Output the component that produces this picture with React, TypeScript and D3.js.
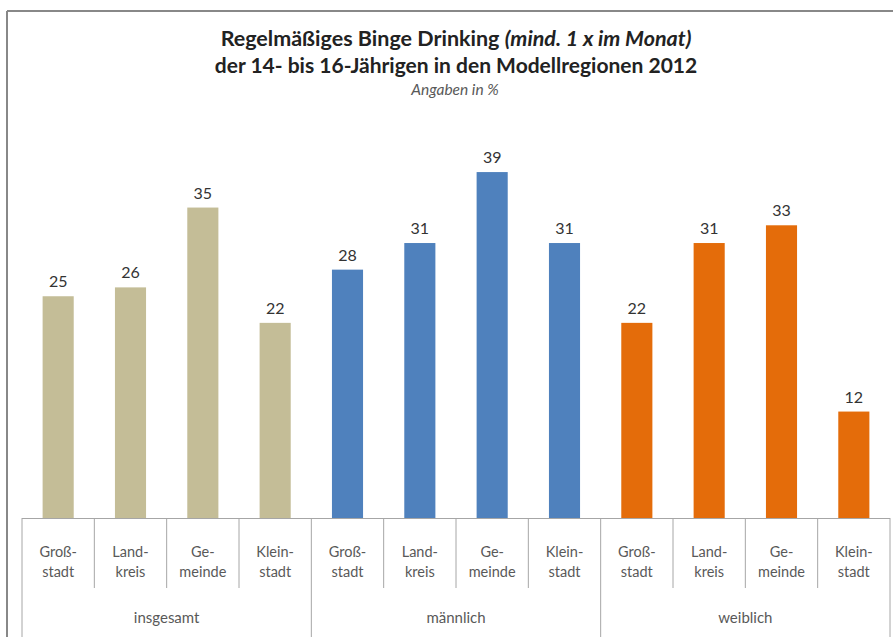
import React from "react";
import * as d3 from "d3";

const groups = ["insgesamt", "männlich", "weiblich"];
const categories = [["Groß-", "stadt"], ["Land-", "kreis"], ["Ge-", "meinde"], ["Klein-", "stadt"]];
const insgesamt = [25, 26, 35, 22];
const maennlich = [28, 31, 39, 31];
const weiblich = [22, 31, 33, 12];
const seriesValues = [insgesamt, maennlich, weiblich];
const colors = ["#C4BD97", "#4F81BD", "#E46C0A"];

const W = 893, H = 637;
const tableLeft = 22, tableRight = 890;
const baseY = 518;
const catBottom = 588;

export default function App() {
  const items = groups.flatMap((g, gi) =>
    categories.map((c, ci) => ({ key: `${gi}-${ci}`, gi, ci, label: c, value: seriesValues[gi][ci] }))
  );
  const x = d3.scaleBand<string>().domain(items.map(d => d.key)).range([tableLeft, tableRight]).paddingInner(0.57).paddingOuter(0.285);
  const xSlots = d3.scaleBand<string>().domain(items.map(d => d.key)).range([tableLeft, tableRight]).padding(0);
  const y = d3.scaleLinear().domain([0, 46]).range([baseY, baseY - 46 * 8.87]);
  const groupW = (tableRight - tableLeft) / groups.length;
  const font = "Lato, 'Open Sans', sans-serif";

  return (
    <svg width={W} height={H} style={{ position: "absolute", left: 0, top: 0, background: "#fff" }}>
      <rect x={0} y={0} width={W} height={H} fill="#fff" />
      <line x1={7} y1={11} x2={W} y2={11} stroke="#888" strokeWidth={2} />
      <line x1={7} y1={11} x2={7} y2={H} stroke="#888" strokeWidth={2} />
      <text x={456} y={46} textAnchor="middle" fontFamily={font} fontSize={21.5} fontWeight="bold" fill="#222">
        Regelmäßiges Binge Drinking <tspan fontStyle="italic">(mind. 1 x im Monat)</tspan>
      </text>
      <text x={456} y={73} textAnchor="middle" fontFamily={font} fontSize={21} fontWeight="bold" fill="#222">
        der 14- bis 16-Jährigen in den Modellregionen 2012
      </text>
      <text x={455} y={95} textAnchor="middle" fontFamily={font} fontSize={15.5} fontStyle="italic" fill="#595959">
        Angaben in %
      </text>
      {items.map(d => (
        <g key={d.key}>
          <rect x={x(d.key)} y={y(d.value)} width={x.bandwidth()} height={baseY - y(d.value)} fill={colors[d.gi]} />
          <text x={(x(d.key) as number) + x.bandwidth() / 2} y={y(d.value) - 9} textAnchor="middle" fontFamily={font} fontSize={16} fill="#333">
            {d.value}
          </text>
          <text x={(xSlots(d.key) as number) + xSlots.bandwidth() / 2} y={557} textAnchor="middle" fontFamily={font} fontSize={14.5} fill="#595959">
            {d.label[0]}
          </text>
          <text x={(xSlots(d.key) as number) + xSlots.bandwidth() / 2} y={577} textAnchor="middle" fontFamily={font} fontSize={14.5} fill="#595959">
            {d.label[1]}
          </text>
          {d.ci > 0 && (
            <line x1={xSlots(d.key)} x2={xSlots(d.key)} y1={baseY} y2={catBottom} stroke="#a6a6a6" strokeWidth={1} />
          )}
        </g>
      ))}
      <line x1={tableLeft} x2={tableRight} y1={baseY + 0.5} y2={baseY + 0.5} stroke="#a6a6a6" strokeWidth={1} />
      {d3.range(groups.length + 1).map(i => (
        <line key={i} x1={tableLeft + i * groupW} x2={tableLeft + i * groupW} y1={baseY} y2={H} stroke="#a6a6a6" strokeWidth={1} />
      ))}
      {groups.map((g, i) => (
        <text key={g} x={tableLeft + (i + 0.5) * groupW} y={623} textAnchor="middle" fontFamily={font} fontSize={15} fill="#595959">
          {g}
        </text>
      ))}
    </svg>
  );
}
